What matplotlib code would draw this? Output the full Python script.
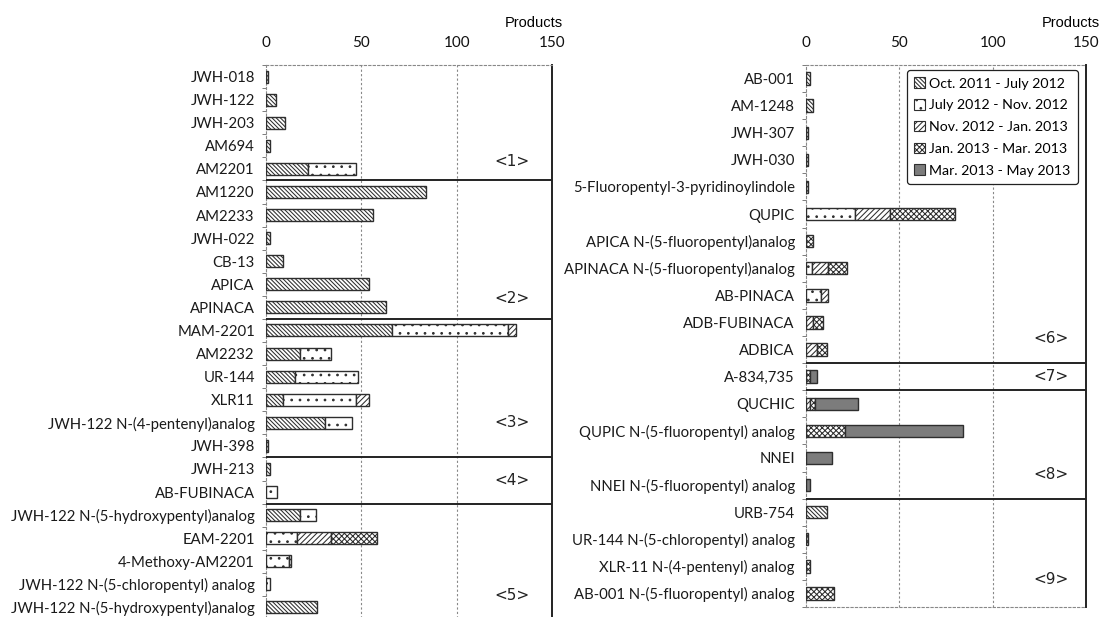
import matplotlib
matplotlib.use("Agg")
import matplotlib.pyplot as plt
import numpy as np
from matplotlib.patches import Patch

# ---------------- data ----------------
series_names = ["Oct. 2011 - July 2012", "July 2012 - Nov. 2012", "Nov. 2012 - Jan. 2013",
                "Jan. 2013 - Mar. 2013", "Mar. 2013 - May 2013"]

left_cats = ["JWH-018", "JWH-122", "JWH-203", "AM694", "AM2201",
             "AM1220", "AM2233", "JWH-022", "CB-13", "APICA", "APINACA",
             "MAM-2201", "AM2232", "UR-144", "XLR11", "JWH-122 N-(4-pentenyl)analog", "JWH-398",
             "JWH-213", "AB-FUBINACA",
             "JWH-122 N-(5-hydroxypentyl)analog", "EAM-2201", "4-Methoxy-AM2201",
             "JWH-122 N-(5-chloropentyl) analog", "JWH-122 N-(5-hydroxypentyl)analog"]
left_s1 = [1, 5, 10, 2, 22, 84, 56, 2, 9, 54, 63, 66, 18, 15, 9, 31, 1, 2, 0, 18, 0, 0, 0, 27]
left_s2 = [0, 0, 0, 0, 25, 0, 0, 0, 0, 0, 0, 61, 16, 33, 38, 14, 0, 0, 6, 8, 16, 12, 2, 0]
left_s3 = [0, 0, 0, 0, 0, 0, 0, 0, 0, 0, 0, 4, 0, 0, 7, 0, 0, 0, 0, 0, 18, 1, 0, 0]
left_s4 = [0, 0, 0, 0, 0, 0, 0, 0, 0, 0, 0, 0, 0, 0, 0, 0, 0, 0, 0, 0, 24, 0, 0, 0]
left_s5 = [0] * 24
left_groups = ["<1>", "<2>", "<3>", "<4>", "<5>"]
left_group_ends = [4, 10, 16, 18]

right_cats = ["AB-001", "AM-1248", "JWH-307", "JWH-030", "5-Fluoropentyl-3-pyridinoylindole",
              "QUPIC", "APICA N-(5-fluoropentyl)analog", "APINACA N-(5-fluoropentyl)analog",
              "AB-PINACA", "ADB-FUBINACA", "ADBICA",
              "A-834,735",
              "QUCHIC", "QUPIC N-(5-fluoropentyl) analog", "NNEI", "NNEI N-(5-fluoropentyl) analog",
              "URB-754", "UR-144 N-(5-chloropentyl) analog", "XLR-11 N-(4-pentenyl) analog",
              "AB-001 N-(5-fluoropentyl) analog"]
right_s1 = [2, 4, 1, 1, 1, 0, 0, 0, 0, 0, 0, 0, 0, 0, 0, 0, 11, 0, 0, 0]
right_s2 = [0, 0, 0, 0, 0, 26, 0, 3, 8, 0, 0, 0, 0, 0, 0, 0, 0, 0, 0, 0]
right_s3 = [0, 0, 0, 0, 0, 19, 0, 9, 4, 4, 6, 0, 2, 0, 0, 0, 0, 0, 0, 0]
right_s4 = [0, 0, 0, 0, 0, 35, 4, 10, 0, 5, 5, 2, 3, 21, 0, 0, 0, 1, 2, 15]
right_s5 = [0, 0, 0, 0, 0, 0, 0, 0, 0, 0, 0, 4, 23, 63, 14, 2, 0, 0, 0, 0]
right_groups = ["<6>", "<7>", "<8>", "<9>"]
right_group_ends = [10, 11, 15]

x_ticks = [0, 50, 100, 150]

# ---------------- style ----------------
EDGE = "#2e2e2e"
styles = [
    dict(facecolor="white", hatch="\\" * 8, edgecolor=EDGE),
    dict(facecolor="white", hatch="..", edgecolor=EDGE),
    dict(facecolor="white", hatch="/" * 6, edgecolor=EDGE),
    dict(facecolor="white", hatch="x" * 6, edgecolor=EDGE),
    dict(facecolor="#7c7c7c", hatch=None, edgecolor=EDGE),
]
plt.rcParams["hatch.linewidth"] = 0.75
FONT = "Lato"

fig = plt.figure(figsize=(11.02, 6.17), dpi=100)
W, H = 1102, 617


def make_axes(l, r, t, b):
    return fig.add_axes([l / W, 1 - b / H, (r - l) / W, (b - t) / H])


def draw_panel(ax, cats, series, group_ends, groups, group_y, bar_h, label_x):
    n = len(cats)
    y = np.arange(n)
    left = np.zeros(n)
    for vals, st in zip(series, styles):
        vals = np.asarray(vals, dtype=float)
        mask = vals > 0
        ax.barh(y[mask], vals[mask], left=left[mask], height=bar_h, linewidth=1.0, zorder=3, **st)
        left += vals
    ax.set_xlim(0, 150)
    ax.set_ylim(n - 0.5, -0.5)
    ax.xaxis.tick_top()
    ax.set_xticks(x_ticks)
    ax.set_xticklabels([str(v) for v in x_ticks], fontsize=11, fontfamily=FONT, color="#111111")
    ax.tick_params(axis="x", length=0, pad=11)
    ax.set_yticks(y)
    ax.set_yticklabels(cats, fontsize=10.7, fontfamily=FONT, color="#1a1a1a")
    ax.tick_params(axis="y", which="major", length=0, pad=8)
    ax.set_yticks(np.arange(n + 1) - 0.5, minor=True)
    ax.tick_params(axis="y", which="minor", length=3, width=0.6, color="#666666")
    for xv in x_ticks[1:3]:
        ax.axvline(xv, color="#888888", lw=0.8, ls=(0, (2, 2)), zorder=1)
    for s in ["top", "bottom", "left"]:
        ax.spines[s].set_color("#888888")
        ax.spines[s].set_linewidth(0.8)
        ax.spines[s].set_linestyle((0, (2, 2)))
    ax.spines["right"].set_color("#222222")
    ax.spines["right"].set_linewidth(1.4)
    for e in group_ends:
        ax.axhline(e + 0.5, color="#222222", lw=1.4, zorder=4)
    for g, gy in zip(groups, group_y):
        ax.text(label_x, gy, g, fontsize=11, fontfamily="DejaVu Sans", ha="center", va="center",
                color="#222222")


axL = make_axes(266, 552, 65, 619)
draw_panel(axL, left_cats, [left_s1, left_s2, left_s3, left_s4, left_s5],
           left_group_ends, left_groups, [3.7, 9.6, 15.0, 17.5, 22.5], 0.52, 129)

axR = make_axes(806, 1086, 65, 607)
draw_panel(axR, right_cats, [right_s1, right_s2, right_s3, right_s4, right_s5],
           right_group_ends, right_groups, [9.6, 11.0, 14.6, 18.5], 0.46, 131)

fig.text(563 / W, 1 - 23 / H, "Products", ha="right", va="center", fontsize=10.5,
         fontfamily="Liberation Sans")
fig.text(1100 / W, 1 - 23 / H, "Products", ha="right", va="center", fontsize=10.5,
         fontfamily="Liberation Sans")

# legend
handles = [Patch(linewidth=0.8, **st) for st in styles]
leg = axR.legend(handles, series_names, loc="upper right", bbox_to_anchor=(0.985, 0.998),
                 prop={"family": FONT, "size": 10.2}, frameon=True, fancybox=True,
                 handlelength=0.75, handleheight=0.75, handletextpad=0.3, labelspacing=0.68,
                 borderpad=0.5, borderaxespad=0.3, edgecolor="#222222", framealpha=1)
leg.get_frame().set_linewidth(0.9)

fig.savefig("out.png", dpi=100)
